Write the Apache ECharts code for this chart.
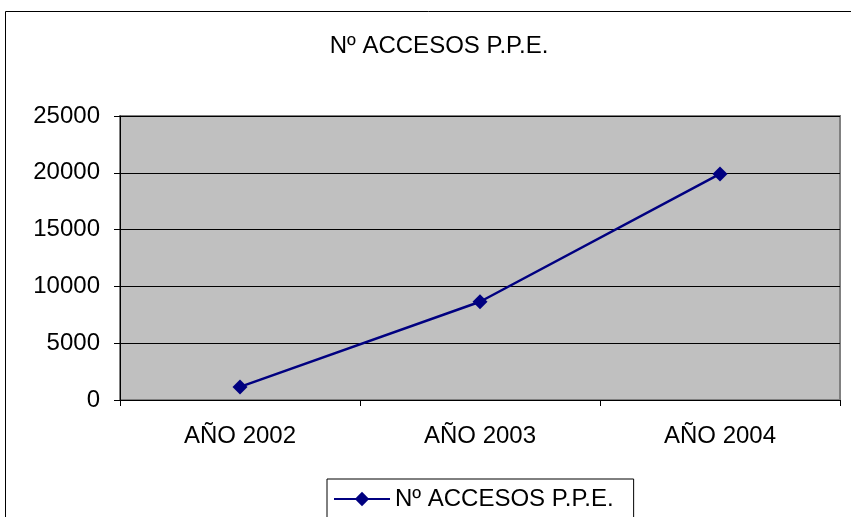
<!DOCTYPE html>
<html><head><meta charset="utf-8">
<script src="https://cdn.jsdelivr.net/npm/echarts@6/dist/echarts.min.js"></script>
<style>html,body{margin:0;padding:0;background:#fff}#c{width:851px;height:517px}</style>
</head><body><div id="c"></div>
<script>
const titleText = 'Nº ACCESOS P.P.E.';
const categories = ['AÑO 2002', 'AÑO 2003', 'AÑO 2004'];
const seriesName = 'Nº ACCESOS P.P.E.';
const values = [1150, 8650, 19900];
const yTicks = [0, 5000, 10000, 15000, 20000, 25000];

const chart = echarts.init(document.getElementById('c'), null, {renderer: 'canvas'});
const font = 'Liberation Sans, Arial, sans-serif';
chart.setOption({
  animation: false,
  backgroundColor: '#fff',
  graphic: [{
    type: 'rect', silent: true, z: -1,
    shape: {x: 5.5, y: 11.5, width: 900, height: 600},
    style: {fill: 'none', stroke: '#000', lineWidth: 1}
  }],
  title: {
    text: titleText, left: 434, top: 29, textAlign: 'center',
    textStyle: {fontFamily: font, fontSize: 24, fontWeight: 'normal', color: '#000'}
  },
  grid: {
    left: 120, top: 116, width: 720, height: 284,
    show: true, backgroundColor: '#c0c0c0', borderColor: '#808080', borderWidth: 2
  },
  legend: {
    left: 327, top: 479,
    data: [seriesName],
    itemWidth: 56, itemHeight: 18, itemGap: 0,
    borderColor: '#000', borderWidth: 1, borderRadius: 0,
    padding: [8, 20, 30, 6],
    textStyle: {fontFamily: font, fontSize: 24, color: '#000'}
  },
  xAxis: {
    type: 'category', data: categories, boundaryGap: true,
    axisLine: {lineStyle: {color: '#000', width: 1}},
    axisTick: {show: true, length: 6, lineStyle: {color: '#000'}},
    axisLabel: {fontFamily: font, fontSize: 24, color: '#000', margin: 24}
  },
  yAxis: {
    type: 'value', min: yTicks[0], max: yTicks[yTicks.length-1], interval: 5000,
    axisLine: {show: true, lineStyle: {color: '#000', width: 1}},
    axisTick: {show: true, length: 6, lineStyle: {color: '#000'}},
    splitLine: {show: true, lineStyle: {color: '#000', width: 1}},
    axisLabel: {fontFamily: font, fontSize: 24, color: '#000', margin: 20,
      formatter: v => String(v)}
  },
  series: [{
    name: seriesName, type: 'line', data: values,
    symbol: 'diamond', symbolSize: 15,
    lineStyle: {color: '#000080', width: 2.5},
    itemStyle: {color: '#000080'}
  }]
});
</script></body></html>
